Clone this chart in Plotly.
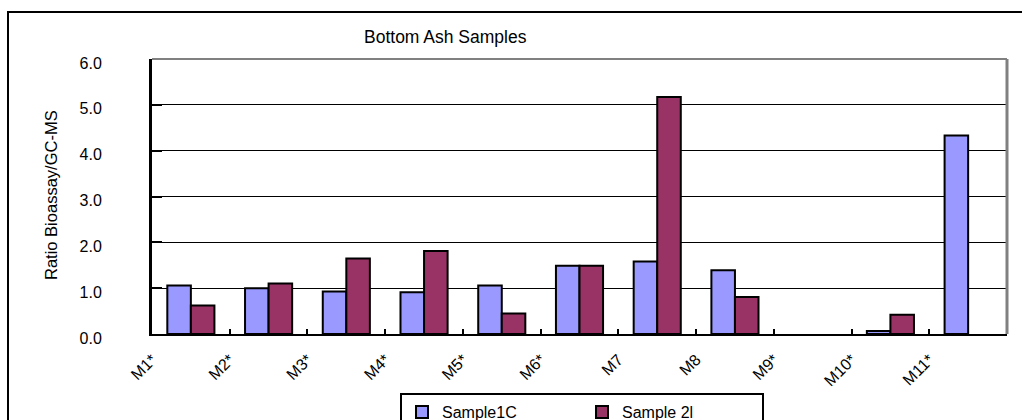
import numpy as np
import plotly.graph_objects as go

categories = ["M1*", "M2*", "M3*", "M4*", "M5*", "M6*", "M7", "M8", "M9*", "M10*", "M11*"]
sample1c = [1.06, 1.00, 0.93, 0.91, 1.06, 1.49, 1.58, 1.39, None, 0.065, 4.33]
sample2l = [0.62, 1.10, 1.65, 1.81, 0.45, 1.49, 5.17, 0.81, None, 0.42, None]
y_ticks = [0, 1, 2, 3, 4, 5, 6]

FONT = "Liberation Sans, Arial, sans-serif"
W, H = 1022, 420
L, R, T, B = 152, 15, 59, 86

pos = np.arange(len(categories)) + 0.5

fig = go.Figure()
fig.add_trace(go.Bar(x=pos, y=sample1c, name="Sample1C",
                     marker=dict(color="#9999FF", line=dict(color="#000000", width=2))))
fig.add_trace(go.Bar(x=pos, y=sample2l, name="Sample 2l",
                     marker=dict(color="#993366", line=dict(color="#000000", width=2))))

fig.update_layout(
    width=W, height=H,
    margin=dict(l=L, r=R, t=T, b=B, pad=0, autoexpand=False),
    paper_bgcolor="white", plot_bgcolor="white",
    font=dict(family=FONT, size=16, color="#000000"),
    barmode="group", bargap=0.394, bargroupgap=0,
    showlegend=True,
    legend=dict(orientation="h", x=(400 - L) / (W - L - R), xanchor="left",
                y=-(393 - (H - B)) / (H - T - B), yanchor="top",
                bordercolor="#000000", borderwidth=2, bgcolor="white",
                entrywidth=135, entrywidthmode="pixels",
                font=dict(family=FONT, size=16)),
    xaxis=dict(range=[0, len(categories)],
               tickvals=list(range(len(categories) + 1)),
               ticktext=categories + [""],
               tickangle=-45, ticks="inside", ticklen=5, tickwidth=2, tickcolor="#000000",
               showline=True, linecolor="#000000", linewidth=2,
               showgrid=False, zeroline=False, automargin=False,
               ticklabelstandoff=8,
               tickfont=dict(family=FONT, size=16)),
    yaxis=dict(range=[0, 6], tickvals=y_ticks, tickformat=".1f",
               ticks="inside", ticklen=10, tickwidth=2, tickcolor="#000000",
               showline=True, linecolor="#000000", linewidth=3,
               showgrid=True, gridcolor="#000000", gridwidth=1,
               zeroline=False, ticklabelstandoff=44, ticklabelshift=4, automargin=False,
               tickfont=dict(family=FONT, size=16)),
    shapes=[
        dict(type="line", xref="paper", yref="paper", x0=0, x1=1, y0=1, y1=1,
             line=dict(color="#808080", width=2), layer="above"),
        dict(type="line", xref="paper", yref="paper", x0=1, x1=1, y0=0, y1=1,
             line=dict(color="#808080", width=3), layer="above"),
        dict(type="rect", xref="paper", yref="paper",
             x0=(8 - L) / (W - L - R), x1=(1040 - L) / (W - L - R),
             y0=(H - B - 440) / (H - T - B), y1=(H - B - 12) / (H - T - B),
             line=dict(color="#000000", width=2), fillcolor="rgba(0,0,0,0)", layer="below"),
    ],
    annotations=[
        dict(text="Bottom Ash Samples", xref="paper", yref="paper",
             x=(445 - L) / (W - L - R), y=(H - B - 37) / (H - T - B),
             xanchor="center", yanchor="middle", showarrow=False,
             font=dict(family=FONT, size=17.5)),
        dict(text="Ratio Bioassay/GC-MS", xref="paper", yref="paper",
             x=(51 - L) / (W - L - R), y=(H - B - 195) / (H - T - B),
             xanchor="center", yanchor="middle", textangle=-90, showarrow=False,
             font=dict(family=FONT, size=16.5)),
    ],
)

fig.write_html("out.html")
